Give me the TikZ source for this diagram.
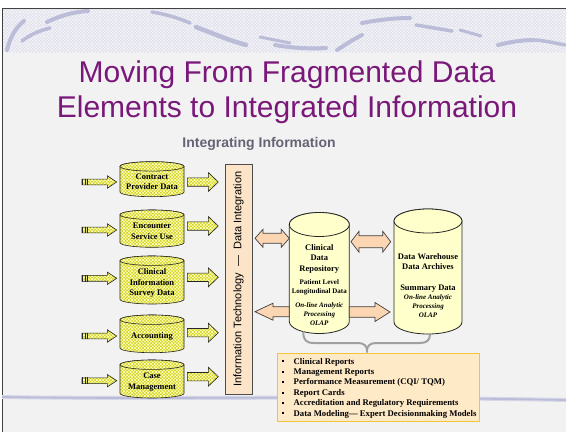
\documentclass[tikz,border=0pt]{standalone}
\usepackage{fontspec}
\setmainfont{Liberation Serif}
\newfontfamily\arialf{Liberation Sans}
\usetikzlibrary{patterns}
\pgfdeclarepatternformonly{finecheck}{\pgfqpoint{-.05pt}{-.05pt}}{\pgfqpoint{3.25pt}{3.25pt}}{\pgfqpoint{3.2pt}{3.2pt}}{%
  \pgfpathrectangle{\pgfpointorigin}{\pgfqpoint{1.65pt}{1.65pt}}%
  \pgfpathrectangle{\pgfqpoint{1.6pt}{1.6pt}}{\pgfqpoint{1.65pt}{1.65pt}}%
  \pgfusepath{fill}}
\definecolor{bgc}{RGB}{242,242,242}
\definecolor{bandc}{RGB}{224,224,236}
\definecolor{bandl}{RGB}{242,242,247}
\definecolor{swoosh}{RGB}{186,188,216}
\definecolor{titlec}{RGB}{122,24,122}
\definecolor{subc}{RGB}{100,100,118}
\definecolor{ydark}{RGB}{208,208,20}
\definecolor{ylight}{RGB}{252,252,185}
\definecolor{cylc}{RGB}{255,255,204}
\definecolor{peach}{RGB}{252,214,178}
\definecolor{barc}{RGB}{251,228,200}
\definecolor{boxc}{RGB}{255,234,200}
\definecolor{boxb}{RGB}{242,196,60}
\definecolor{bracec}{RGB}{160,160,160}
% horizontal block arrow: tail x, tip x, y, shaft half, head half, head length (signed), style
\newcommand{\harrow}[7]{\path[#7] (#1,#3-#4) -- ({#2-(#6)},#3-#4) -- ({#2-(#6)},#3-#5) -- (#2,#3) -- ({#2-(#6)},#3+#5) -- ({#2-(#6)},#3+#4) -- (#1,#3+#4) -- cycle;}
% double block arrow: left tip, right tip, y, shaft half, head half, head length, style
\newcommand{\dharrow}[7]{\path[#7] (#1,#3) -- (#1+#6,#3-#5) -- (#1+#6,#3-#4) -- (#2-#6,#3-#4) -- (#2-#6,#3-#5) -- (#2,#3) -- (#2-#6,#3+#5) -- (#2-#6,#3+#4) -- (#1+#6,#3+#4) -- (#1+#6,#3+#5) -- cycle;}
% cylinder: cx, ytop, ybot, rx, ry, style
\newcommand{\cyl}[6]{\path[#6] ({#1-#4},#2) -- ({#1-#4},#3) arc[start angle=180,end angle=0,x radius=#4,y radius=#5] -- ({#1+#4},#2) arc[start angle=0,end angle=-180,x radius=#4,y radius=#5] -- cycle;
 \path[#6] (#1,#2) ellipse[x radius=#4,y radius=#5];}
% striped tail of the input arrows
\newcommand{\intail}[1]{\draw[black!85, line width=0.9pt] (82.8,#1-3.3) -- (82.8,#1+3.3) (85,#1-3.3) -- (85,#1+3.3) (87.2,#1-3.3) -- (87.2,#1+3.3);}
\begin{document}
\begin{tikzpicture}[x=1pt,y=-1pt,
  swo/.style={draw=swoosh, line cap=round},
  ychk/.style={preaction={fill=ydark}, pattern=finecheck, pattern color=ylight, draw=black!85, line width=0.6pt},
  yarrow/.style={preaction={fill=ydark}, pattern=finecheck, pattern color=ylight, draw=black!85, line width=0.6pt},
  bigcyl/.style={fill=cylc, draw=black!85, line width=0.8pt},
  parrow/.style={fill=peach, draw=black!75, line width=0.7pt},
  cyltext/.style={font=\fontsize{8.5}{10.5}\selectfont\bfseries, align=center, inner sep=0},
  smalltext/.style={font=\fontsize{7}{9}\selectfont\bfseries, align=center, inner sep=0},
  olaptext/.style={font=\fontsize{7}{9}\selectfont\bfseries\itshape, align=center, inner sep=0},
  listtext/.style={font=\fontsize{8.7}{10}\selectfont\bfseries, anchor=base west, inner sep=0},
  titletext/.style={font=\arialf\fontsize{30}{34}\selectfont, text=titlec, anchor=base, inner sep=0},
  subtext/.style={font=\arialf\fontsize{14}{16}\selectfont\bfseries, text=subc, anchor=base, inner sep=0}]
\useasboundingbox (0,0) rectangle (566,432);
\fill[white] (0,0) rectangle (566,432);
\fill[bgc] (2,8) rectangle (566,432);
% top band
\path[preaction={fill=bandc}, pattern=finecheck, pattern color=bandl] (2,8) rectangle (566,53);
\draw[swo, line width=4pt] (7,50) .. controls (10,38) and (15,28) .. (24,21);
\draw[swo, line width=3.5pt] (22,41) .. controls (30,35) and (38,31) .. (50,28);
\draw[swo, line width=4pt] (47,22) .. controls (60,16) and (72,12) .. (88,11);
\draw[swo, line width=3.5pt] (152,12) .. controls (165,14) and (178,18) .. (190,23);
\draw[swo, line width=4.5pt] (196,27) .. controls (212,33) and (228,40) .. (246,45);
\draw[swo, line width=3pt] (260,37) .. controls (270,39) and (280,41) .. (290,43);
\draw[swo, line width=4pt] (275,45) .. controls (292,48) and (310,49) .. (326,48);
\draw[swo, line width=4pt] (337,50) .. controls (345,45) and (352,40) .. (362,35);
\draw[swo, line width=4pt] (362,23) .. controls (378,20) and (394,18) .. (410,18);
\draw[swo, line width=3.5pt] (416,25) .. controls (428,27) and (440,29) .. (452,31);
\draw[swo, line width=3pt] (460,30) .. controls (467,32) and (474,34) .. (481,36);
\draw[swo, line width=4pt] (498,45) .. controls (510,42) and (522,40) .. (534,40);
\draw[swo, line width=3.5pt] (536,40) .. controls (546,41) and (555,43) .. (565,45);
\draw[black!75, line width=0.8pt] (2,432) -- (2,8) -- (566,8);
% bottom stripe
\draw[swoosh!60, line width=4pt] (2,397) .. controls (150,399.5) and (330,395.5) .. (566,400);
\draw[swoosh, line width=1.8pt] (2,397) .. controls (150,399.5) and (330,395.5) .. (566,400);
% titles
\node[titletext] (title1) at (287,82) {Moving From Fragmented Data};
\node[titletext] (title2) at (287,117) {Elements to Integrated Information};
\node[subtext] (subtitle) at (259,147) {Integrating Information};
% input arrows
\foreach \yy in {182,230,278.3,336,380.7}{
  \harrow{82}{116.7}{\yy}{2.9}{6.2}{9.4}{yarrow}
  \intail{\yy}
}
% source cylinders
\cyl{152}{166.4}{192}{32}{4.7}{ychk}
\cyl{152}{214.7}{242.6}{32}{4.7}{ychk}
\cyl{152}{260.7}{299.3}{32}{4.7}{ychk}
\cyl{152}{319.7}{348}{32}{4.7}{ychk}
\cyl{152}{364.7}{393.3}{32}{4.7}{ychk}
\node[cyltext] (contract) at (152,181.5) {Contract\\Provider Data};
\node[cyltext] (encounter) at (152,231.5) {Encounter\\Service Use};
\node[cyltext] (clinfo) at (152,283.3) {Clinical\\Information\\Survey Data};
\node[cyltext] (accounting) at (152,336.5) {Accounting};
\node[cyltext] (casemgmt) at (152,382) {Case\\Management};
% output arrows
\foreach \yy in {182,226,277.3,332.7,376.7}{
  \harrow{187.3}{218.3}{\yy}{4.2}{9.5}{10}{yarrow}
}
% IT bar
\node[rotate=90, draw=black!70, fill=barc, line width=0.8pt, minimum width=230, minimum height=27, inner sep=0,
      font=\arialf\fontsize{11}{13}\selectfont] (itbar) at (238.5,279)
      {Information Technology\hspace{6pt}—\hspace{6pt}Data Integration};
% repository cylinders
\cyl{319.3}{224.5}{321.5}{30}{12}{bigcyl}
\cyl{428}{221}{322}{34}{12}{bigcyl}
\node[cyltext] (cdr) at (319.3,258.6) {Clinical\\Data\\Repository};
\node[smalltext] (patient) at (319.3,287.4) {Patient Level\\Longitudinal Data};
\node[olaptext] (olap1) at (319.3,314) {On-line Analytic\\Processing\\OLAP};
\node[cyltext] (dw) at (428,261.6) {Data Warehouse\\Data Archives};
\node[cyltext] (summary) at (428,288.3) {Summary Data};
\node[olaptext] (olap2) at (428,306) {On-line Analytic\\Processing\\OLAP};
% peach arrows
\dharrow{255}{289.3}{238.3}{5}{9}{8}{parrow}
\dharrow{351}{390.7}{241.7}{6}{10.5}{8}{parrow}
\harrow{289.3}{255}{311.7}{5}{8.5}{-18}{parrow}
\harrow{349.3}{390}{312}{5.3}{9.5}{15}{parrow}
% brace
\draw[bracec, line width=2pt, line cap=round] (303.3,332) .. controls (303.3,340) and (306,343) .. (314,343) -- (358,343) .. controls (364,343) and (367,346) .. (367,350.5) .. controls (367,346) and (370,343) .. (376,343) -- (420,343) .. controls (427,343) and (430,340) .. (430,334);
% output box
\node[draw=boxb, fill=boxc, line width=1.2pt, minimum width=202, minimum height=68, anchor=north west, inner sep=0] (reports) at (277,353) {};
\foreach \t [count=\i] in {{Clinical Reports},{Management Reports},{Performance Measurement (CQI/ TQM)},{Report Cards},{Accreditation and Regulatory Requirements},{Data Modeling— Expert Decisionmaking Models}}{
  \node[listtext] (item\i) at (293.5,{364+(\i-1)*10.45}) {\t};
  \fill[black] (282.3,{364+(\i-1)*10.45-3.8}) rectangle +(2,2);
}
\end{tikzpicture}
\end{document}
